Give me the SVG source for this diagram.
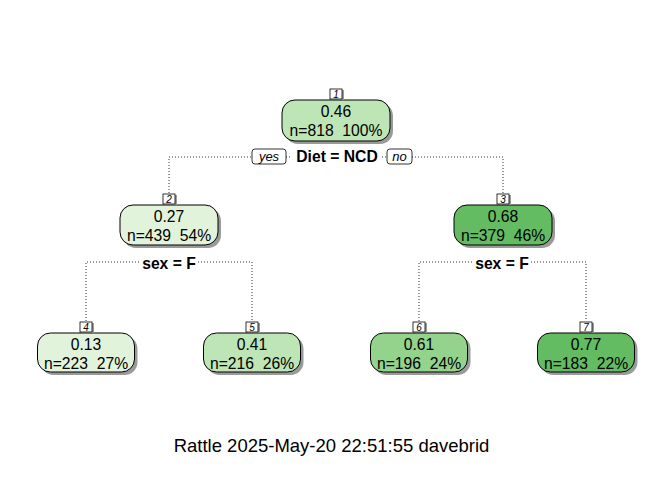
<svg xmlns="http://www.w3.org/2000/svg" width="672" height="480" viewBox="0 0 672 480">
<style>
  .bx { stroke: #000; stroke-width: 1; }
  .sh { fill: #9a9a9a; }
  .val { font-family: "Liberation Sans", Arial, sans-serif; font-size: 15.7px; text-anchor: middle; fill: #000; white-space: pre; }
  .num { font-family: "Liberation Sans", Arial, sans-serif; font-size: 10px; font-style: italic; text-anchor: middle; fill: #000; }
  .lb { fill: #fff; stroke: #000; stroke-width: 0.8; }
  .lsh { fill: #9a9a9a; }
  .split { font-family: "Liberation Sans", Arial, sans-serif; font-size: 15.7px; font-weight: bold; text-anchor: middle; fill: #000; }
  .yn { font-family: "Liberation Sans", Arial, sans-serif; font-size: 13px; font-style: italic; text-anchor: middle; fill: #000; }
  .dot { fill: none; stroke: #333; stroke-width: 1; stroke-dasharray: 1 2; }
  .c1 { fill: #e2f3dc; }
  .c2 { fill: #bde5b6; }
  .c3 { fill: #93d38c; }
  .c4 { fill: #63bb62; }
</style>
<rect width="672" height="480" fill="#fff"/>
<g id="connectors">
  <polyline class="dot" points="169,193 169,157 503,157 503,193"/>
  <polyline class="dot" points="86,321 86,262 252,262 252,321"/>
  <polyline class="dot" points="419,321 419,262 586,262 586,321"/>
</g>
<g id="split-labels">
  <rect x="292" y="149" width="90" height="16" fill="#fff"/>
  <text class="split" x="337" y="162">Diet = NCD</text>
  <rect x="252" y="149" width="34" height="15" rx="3" class="lb"/>
  <text class="yn" x="269" y="161">yes</text>
  <rect x="387" y="149" width="25" height="15" rx="3" class="lb"/>
  <text class="yn" x="399.5" y="161">no</text>
  <rect x="140" y="255" width="58" height="16" fill="#fff"/>
  <text class="split" x="169" y="268.5">sex = F</text>
  <rect x="473" y="255" width="58" height="16" fill="#fff"/>
  <text class="split" x="502" y="268.5">sex = F</text>
</g>
<g id="node1">
  <rect class="sh" x="285" y="103" width="108" height="41" rx="13"/>
  <rect class="bx c2" x="282" y="100" width="108" height="41" rx="13"/>
  <rect class="lsh" x="332" y="90" width="12" height="10"/>
  <rect class="lb" x="330" y="89" width="12" height="10"/>
  <text class="num" x="336" y="97.5">1</text>
  <text class="val" x="336" y="117">0.46</text>
  <text class="val" x="336" y="136">n=818  100%</text>
</g>
<g id="node2">
  <rect class="sh" x="123" y="208" width="98" height="40" rx="13"/>
  <rect class="bx c1" x="120" y="205" width="98" height="40" rx="13"/>
  <rect class="lsh" x="165" y="195" width="12" height="10"/>
  <rect class="lb" x="163" y="194" width="12" height="10"/>
  <text class="num" x="169" y="202.5">2</text>
  <text class="val" x="169" y="222">0.27</text>
  <text class="val" x="169" y="241">n=439  54%</text>
</g>
<g id="node3">
  <rect class="sh" x="457" y="208" width="98" height="40" rx="13"/>
  <rect class="bx c4" x="454" y="205" width="98" height="40" rx="13"/>
  <rect class="lsh" x="499" y="195" width="12" height="10"/>
  <rect class="lb" x="497" y="194" width="12" height="10"/>
  <text class="num" x="503" y="202.5">3</text>
  <text class="val" x="503" y="222">0.68</text>
  <text class="val" x="503" y="241">n=379  46%</text>
</g>
<g id="node4">
  <rect class="sh" x="40.5" y="336" width="97" height="39" rx="13"/>
  <rect class="bx c1" x="37.5" y="333" width="97" height="39" rx="13"/>
  <rect class="lsh" x="82" y="323" width="12" height="10"/>
  <rect class="lb" x="80" y="322" width="12" height="10"/>
  <text class="num" x="86" y="330.5">4</text>
  <text class="val" x="86" y="350">0.13</text>
  <text class="val" x="86" y="368.5">n=223  27%</text>
</g>
<g id="node5">
  <rect class="sh" x="206.5" y="336" width="97" height="39" rx="13"/>
  <rect class="bx c2" x="203.5" y="333" width="97" height="39" rx="13"/>
  <rect class="lsh" x="248" y="323" width="12" height="10"/>
  <rect class="lb" x="246" y="322" width="12" height="10"/>
  <text class="num" x="252" y="330.5">5</text>
  <text class="val" x="252" y="350">0.41</text>
  <text class="val" x="252" y="368.5">n=216  26%</text>
</g>
<g id="node6">
  <rect class="sh" x="373.5" y="336" width="97" height="39" rx="13"/>
  <rect class="bx c3" x="370.5" y="333" width="97" height="39" rx="13"/>
  <rect class="lsh" x="415" y="323" width="12" height="10"/>
  <rect class="lb" x="413" y="322" width="12" height="10"/>
  <text class="num" x="419" y="330.5">6</text>
  <text class="val" x="419" y="350">0.61</text>
  <text class="val" x="419" y="368.5">n=196  24%</text>
</g>
<g id="node7">
  <rect class="sh" x="540.5" y="336" width="97" height="39" rx="13"/>
  <rect class="bx c4" x="537.5" y="333" width="97" height="39" rx="13"/>
  <rect class="lsh" x="582" y="323" width="12" height="10"/>
  <rect class="lb" x="580" y="322" width="12" height="10"/>
  <text class="num" x="586" y="330.5">7</text>
  <text class="val" x="586" y="350">0.77</text>
  <text class="val" x="586" y="368.5">n=183  22%</text>
</g>
<text x="331.5" y="452" font-family="'Liberation Sans', Arial, sans-serif" font-size="18.5" text-anchor="middle" fill="#000">Rattle 2025-May-20 22:51:55 davebrid</text>
</svg>
